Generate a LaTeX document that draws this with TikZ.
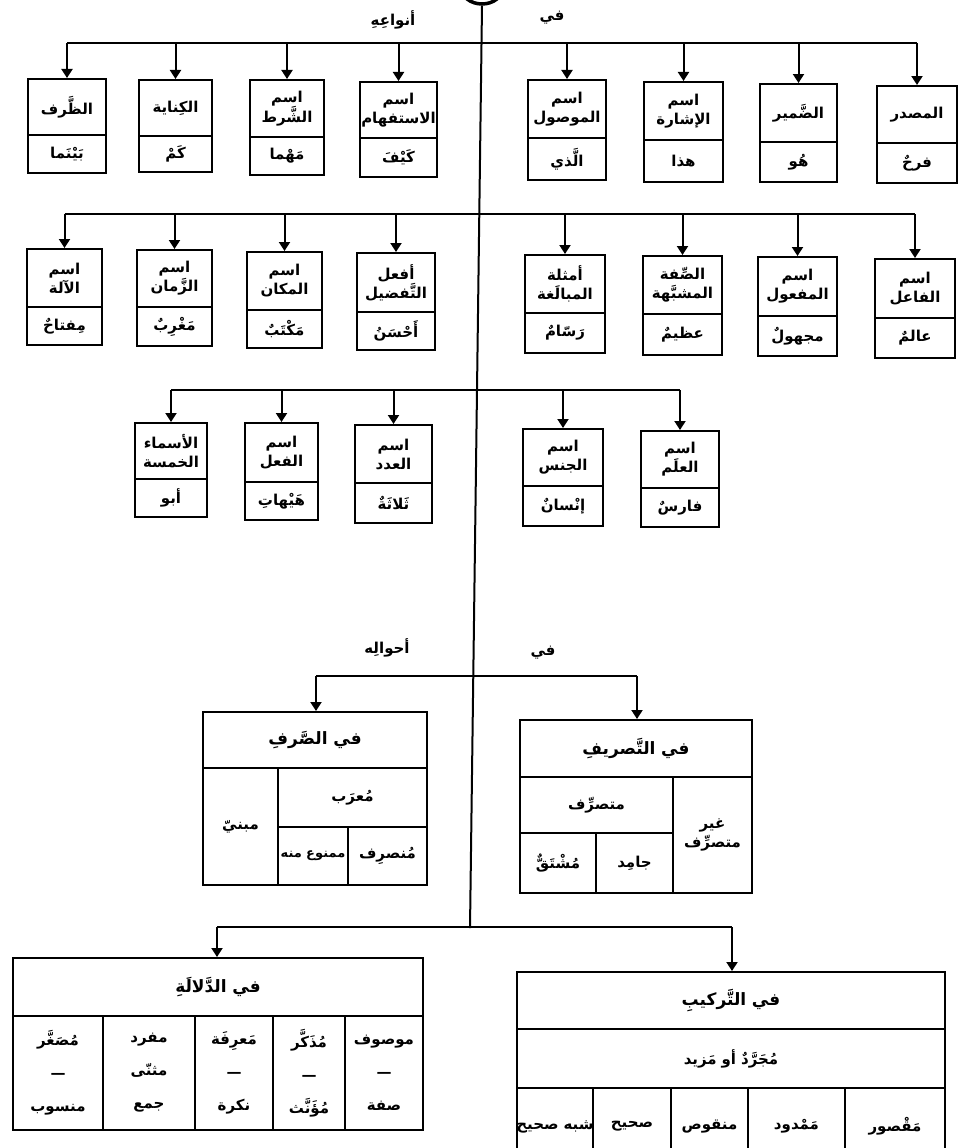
\documentclass[tikz,border=0pt]{standalone}
\usepackage{fontspec}
\usetikzlibrary{arrows.meta,shapes.geometric}
\TeXXeTstate=1
\newfontfamily\arabicfont[Script=Arabic]{DejaVu Sans}
\newcommand{\ar}[1]{\mbox{\arabicfont\beginR #1\endR}}
\newcommand{\arx}[1]{\makebox[0pt][c]{\arabicfont\beginR #1\endR}}
\tikzset{
  cell/.style={draw, line width=2pt, inner sep=0pt, align=center, font=\arabicfont\bfseries\fontsize{15}{19}\selectfont},
  bigcell/.style={cell, font=\arabicfont\bfseries\fontsize{17}{21}\selectfont},
  smallcell/.style={cell, font=\arabicfont\bfseries\fontsize{13}{16}\selectfont},
  lbl/.style={inner sep=0pt, font=\arabicfont\bfseries\fontsize{15}{18}\selectfont},
  arr/.style={line width=2pt, -{Triangle[width=11pt,length=9pt]}},
  ln/.style={line width=2pt},
}
% name, xl, xr, yt, yb, text, style
\newcommand{\cellgen}[7]{\pgfmathsetmacro\cw{#3-#2}\pgfmathsetmacro\ch{#5-#4}%
  \node[#7, text width=\cw pt, minimum height=\ch pt] (#1) at ({(#2+#3)/2},{(#4+#5)/2}) {#6};}
\newcommand{\cellat}[6]{\cellgen{#1}{#2}{#3}{#4}{#5}{#6}{cell}}
\newcommand{\bigcellat}[6]{\cellgen{#1}{#2}{#3}{#4}{#5}{#6}{bigcell}}
\newcommand{\smallcellat}[6]{\cellgen{#1}{#2}{#3}{#4}{#5}{#6}{smallcell}}
% name, xl, xr, yt, yd, yb, label, example
\newcommand{\twobox}[8]{\cellat{#1}{#2}{#3}{#4}{#5}{#7}\cellat{#1x}{#2}{#3}{#5}{#6}{#8}}
\begin{document}
\begin{tikzpicture}[x=1pt,y=-1pt]
\useasboundingbox (0,0) rectangle (962,1148);
% root and trunk
\node[draw, ellipse, line width=3.5pt, minimum width=42pt, minimum height=34pt] (root) at (482,-13) {};
\coordinate (trunkend) at (470,928);
\draw[ln] (root.south) -- (trunkend);
% labels
\node[lbl] (lanwa) at (393,20) {\ar{أنواعِهِ}};
\node[lbl] (lfi1) at (552,18) {\ar{في}};
\node[lbl] (lahwal) at (387,648) {\ar{أحوالِه}};
\node[lbl] (lfi2) at (543,653) {\ar{في}};
% ---------- row 1
\coordinate (bar1) at (0,43);
\twobox{ra}{28}{106}{79}{135}{173}{\ar{الظَّرف}}{\ar{بَيْنَما}}
\twobox{rb}{139}{212}{80}{136}{172}{\ar{الكِناية}}{\ar{كَمْ}}
\twobox{rc}{250}{324}{80}{137}{175}{\ar{اسم}\\\ar{الشَّرط}}{\ar{مَهْما}}
\twobox{rd}{360}{437}{82}{138}{177}{\ar{اسم}\\\ar{الاستفهام}}{\ar{كَيْفَ}}
\twobox{re}{528}{606}{80}{138}{180}{\ar{اسم}\\\ar{الموصول}}{\ar{الَّذي}}
\twobox{rf}{644}{723}{82}{140}{182}{\ar{اسم}\\\ar{الإشارة}}{\ar{هذا}}
\twobox{rg}{760}{837}{84}{142}{182}{\ar{الضَّمير}}{\ar{هُو}}
\twobox{rh}{877}{957}{86}{143}{183}{\ar{المصدر}}{\ar{فرحٌ}}
\draw[ln] (ra.north |- bar1) -- (rh.north |- bar1);
\foreach \n in {ra,rb,rc,rd,re,rf,rg,rh} \draw[arr] (\n.north |- bar1) -- (\n.north);
% ---------- row 2
\coordinate (bar2) at (0,214);
\twobox{sa}{27}{102}{249}{307}{345}{\ar{اسم}\\\ar{الآلة}}{\ar{مِفتاحٌ}}
\twobox{sb}{137}{212}{250}{307}{346}{\ar{اسم}\\\ar{الزَّمان}}{\ar{مَغْرِبٌ}}
\twobox{sc}{247}{322}{252}{310}{348}{\ar{اسم}\\\ar{المكان}}{\ar{مَكْتَبٌ}}
\twobox{sd}{357}{435}{253}{312}{350}{\ar{أفعل}\\\ar{التَّفضيل}}{\ar{أَحْسَنُ}}
\twobox{se}{525}{605}{255}{313}{353}{\ar{أمثلة}\\\ar{المبالَغة}}{\ar{رَسّامٌ}}
\twobox{sf}{643}{722}{256}{314}{355}{\ar{الصِّفة}\\\ar{المشبَّهة}}{\ar{عظيمٌ}}
\twobox{sg}{758}{837}{257}{316}{356}{\ar{اسم}\\\ar{المفعول}}{\ar{مجهولٌ}}
\twobox{sh}{875}{955}{259}{318}{358}{\ar{اسم}\\\ar{الفاعل}}{\ar{عالمٌ}}
\draw[ln] (sa.north |- bar2) -- (sh.north |- bar2);
\foreach \n in {sa,sb,sc,sd,se,sf,sg,sh} \draw[arr] (\n.north |- bar2) -- (\n.north);
% ---------- row 3
\coordinate (bar3) at (0,390);
\twobox{ta}{135}{207}{423}{479}{517}{\ar{الأسماء}\\\ar{الخمسة}}{\ar{أبو}}
\twobox{tb}{245}{318}{423}{482}{520}{\ar{اسم}\\\ar{الفعل}}{\ar{هَيْهاتِ}}
\twobox{tc}{355}{432}{425}{483}{523}{\ar{اسم}\\\ar{العدد}}{\ar{ثَلاثَةٌ}}
\twobox{td}{523}{603}{429}{486}{526}{\ar{اسم}\\\ar{الجنس}}{\ar{إنْسانٌ}}
\twobox{te}{641}{719}{431}{488}{527}{\ar{اسم}\\\ar{العلَم}}{\ar{فارسٌ}}
\draw[ln] (ta.north |- bar3) -- (te.north |- bar3);
\foreach \n in {ta,tb,tc,td,te} \draw[arr] (\n.north |- bar3) -- (\n.north);
% ---------- middle tables
\bigcellat{sarf}{203}{427}{712}{768}{\ar{في الصَّرفِ}}
\cellat{mabni}{203}{278}{768}{885}{\ar{مبنيّ}}
\cellat{murab}{278}{427}{768}{827}{\ar{مُعرَب}}
\smallcellat{mamnu}{278}{348}{827}{885}{\arx{ممنوع منه}}
\cellat{munsarif}{348}{427}{827}{885}{\ar{مُنصرِف}}
\bigcellat{tasrif}{520}{752}{720}{777}{\ar{في التَّصريفِ}}
\cellat{ghayr}{673}{752}{777}{893}{\ar{غير}\\\ar{متصرِّف}}
\cellat{mutas}{520}{673}{777}{833}{\ar{متصرِّف}}
\cellat{mushtaq}{520}{596}{833}{893}{\ar{مُشْتَقٌّ}}
\cellat{jamid}{596}{673}{833}{893}{\ar{جامِد}}
\coordinate (m1) at (316,676);
\coordinate (m2) at (637,676);
\draw[ln] (m1) -- (m2);
\draw[arr] (m1) -- (m1 |- sarf.north);
\draw[arr] (m2) -- (m2 |- tasrif.north);
% ---------- bottom tables
\coordinate (b1) at (217,927);
\coordinate (b2) at (732,927);
\draw[ln] (b1) -- (b2);
\bigcellat{dalala}{13}{423}{958}{1016}{\ar{في الدَّلالَةِ}}
\cellat{da}{13}{103}{1016}{1130}{\ar{مُصَغَّر}\\[14pt]\ar{—}\\[14pt]\ar{منسوب}}
\cellat{db}{103}{195}{1016}{1130}{\ar{مفرد}\\[14pt]\ar{مثنّى}\\[14pt]\ar{جمع}}
\cellat{dc}{195}{273}{1016}{1130}{\ar{مَعرِفَة}\\[14pt]\ar{—}\\[14pt]\ar{نكرة}}
\cellat{dd}{273}{345}{1016}{1130}{\ar{مُذَكَّر}\\[14pt]\ar{—}\\[14pt]\ar{مُؤَنَّث}}
\cellat{de}{345}{423}{1016}{1130}{\ar{موصوف}\\[14pt]\ar{—}\\[14pt]\ar{صفة}}
\bigcellat{tarkib}{517}{945}{972}{1029}{\ar{في التَّركيبِ}}
\cellat{mujarrad}{517}{945}{1029}{1088}{\ar{مُجَرَّدٌ أو مَزيد}}
\cellat{ka}{517}{593}{1088}{1165}{\arx{شبه صحيح}}
\cellat{kb}{593}{671}{1088}{1165}{\ar{صحيح}}
\cellat{kc}{671}{748}{1088}{1165}{\ar{منقوص}}
\cellat{kd}{748}{845}{1088}{1165}{\ar{مَمْدود}}
\cellat{ke}{845}{945}{1088}{1165}{\ar{مَقْصور}}
\draw[arr] (b1) -- (b1 |- dalala.north);
\draw[arr] (b2) -- (b2 |- tarkib.north);
% page number (cut off at the page edge)
\node[lbl] (page) at (470,1155) {\ar{٣٧}};
\end{tikzpicture}
\end{document}
